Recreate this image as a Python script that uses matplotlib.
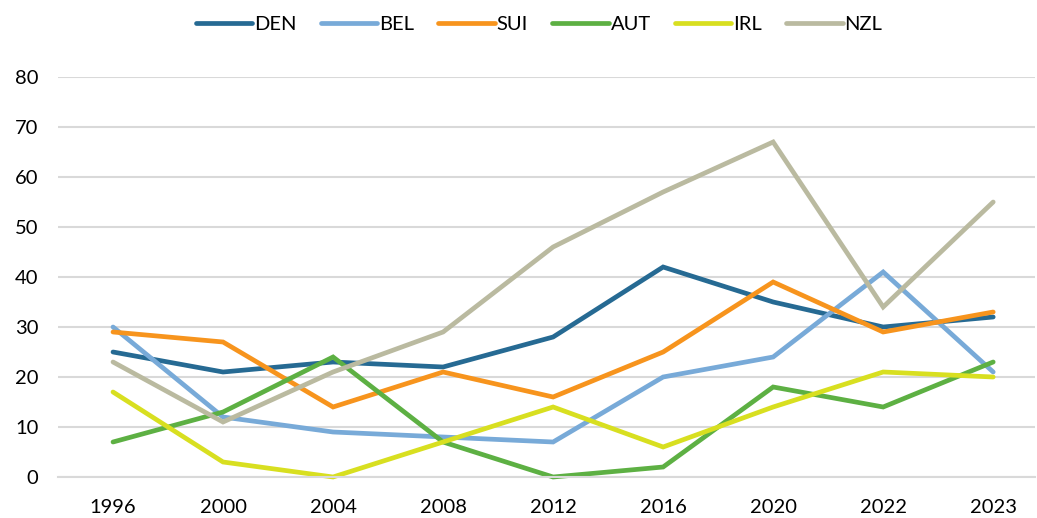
import matplotlib
matplotlib.use("Agg")
import matplotlib.pyplot as plt

plt.rcParams["font.family"] = ["Lato", "DejaVu Sans"]

years = ["1996", "2000", "2004", "2008", "2012", "2016", "2020", "2022", "2023"]
den = [25, 21, 23, 22, 28, 42, 35, 30, 32]
bel = [30, 12, 9, 8, 7, 20, 24, 41, 21]
sui = [29, 27, 14, 21, 16, 25, 39, 29, 33]
aut = [7, 13, 24, 7, 0, 2, 18, 14, 23]
irl = [17, 3, 0, 7, 14, 6, 14, 21, 20]
nzl = [23, 11, 21, 29, 46, 57, 67, 34, 55]

series = [
    ("DEN", den, "#266A93"),
    ("BEL", bel, "#78AAD8"),
    ("SUI", sui, "#F7941D"),
    ("AUT", aut, "#5DB043"),
    ("IRL", irl, "#D8DF20"),
    ("NZL", nzl, "#BABAA0"),
]

fig = plt.figure(figsize=(10.37, 5.18), dpi=100)
ax = fig.add_axes([58 / 1037, 1 - 477 / 518, (1035 - 58) / 1037, 400 / 518])

x = range(len(years))
for name, vals, col in series:
    ax.plot(x, vals, color=col, lw=3.4, label=name, solid_capstyle="round",
            solid_joinstyle="miter", clip_on=False)

ax.set_xlim(-0.5, 8.38)
ax.set_ylim(0, 80)
ax.set_yticks(range(0, 81, 10))
ax.set_xticks(list(x))
ax.set_xticklabels(years)
ax.grid(axis="y", color="#D9D9D9", lw=1.5)
ax.set_axisbelow(True)
for s in ["top", "right", "left"]:
    ax.spines[s].set_visible(False)
ax.spines["bottom"].set_color("#D9D9D9")
ax.spines["bottom"].set_linewidth(1.5)
ax.tick_params(axis="both", length=0, labelsize=14.5, colors="#000000")
ax.tick_params(axis="y", pad=14)
ax.tick_params(axis="x", pad=16)

fig.legend(loc="center", bbox_to_anchor=(539 / 1037, 1 - 24 / 518), ncol=6,
           frameon=False, fontsize=14.5, handlelength=2.8, handletextpad=0.1,
           columnspacing=1.2)

fig.savefig("out.png", dpi=100)
